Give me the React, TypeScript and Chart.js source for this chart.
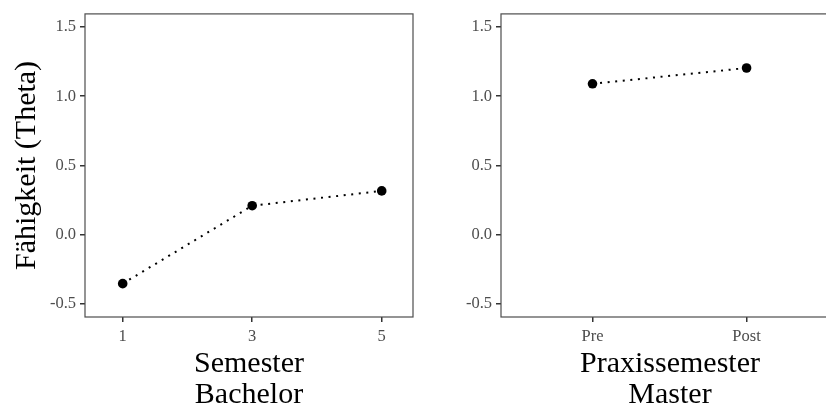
import React, { useEffect, useRef } from "react";
import { Chart, registerables } from "chart.js";

Chart.register(...registerables);

// ---- data ----
const bachelorSemesters = [1, 3, 5];
const bachelorTheta = [-0.354, 0.209, 0.316];
const masterPhases = ["Pre", "Post"];
const masterTheta = [1.09, 1.204];
const yTicks = [-0.5, 0, 0.5, 1.0, 1.5];
const yTickLabels = ["-0.5", "0.0", "0.5", "1.0", "1.5"];
const yAxisTitle = "Fähigkeit (Theta)";
const bachelorTitle = ["Semester", "Bachelor"];
const masterTitle = ["Praxissemester", "Master"];

const FAMILY = "'Liberation Serif', 'Times New Roman', serif";
const TICK_FONT = { family: FAMILY, size: 16.5 };
const TITLE_FONT = { family: FAMILY, size: 30, lineHeight: 31 / 30 };

const panelBorder = {
  id: "panelBorder",
  beforeDatasetsDraw(chart: any) {
    const { ctx, chartArea } = chart;
    ctx.save();
    ctx.strokeStyle = "#4d4d4d";
    ctx.lineWidth = 1.2;
    ctx.strokeRect(chartArea.left, chartArea.top, chartArea.right - chartArea.left, chartArea.bottom - chartArea.top);
    ctx.restore();
  },
};

function buildConfig(opts: {
  xs: number[];
  ys: number[];
  xLabels: (v: number) => string;
  xMin: number;
  xMax: number;
  xTitle: string[];
  yTitle: string | null;
  yWidth: number;
  padRight: number;
}) {
  return {
    type: "line",
    data: {
      datasets: [
        {
          data: opts.xs.map((x, i) => ({ x, y: opts.ys[i] })),
          borderColor: "#000",
          borderWidth: 2,
          borderDash: [2, 5.6],
          borderCapStyle: "butt",
          pointRadius: 4.8,
          pointBackgroundColor: "#000",
          pointBorderWidth: 0,
          tension: 0,
          fill: false,
        },
      ],
    },
    options: {
      animation: false,
      responsive: false,
      devicePixelRatio: 1,
      layout: { padding: { top: 10, right: opts.padRight, bottom: 0, left: 0 } },
      plugins: { legend: { display: false }, tooltip: { enabled: false } },
      scales: {
        x: {
          type: "linear",
          min: opts.xMin,
          max: opts.xMax,
          afterBuildTicks: (s: any) => {
            s.ticks = opts.xs.map((v) => ({ value: v }));
          },
          afterFit: (s: any) => {
            s.height = 90;
          },
          ticks: {
            callback: (v: number) => opts.xLabels(v),
            font: TICK_FONT,
            color: "#4d4d4d",
            padding: 5,
            autoSkip: false,
            maxRotation: 0,
          },
          grid: { drawOnChartArea: false, tickLength: 5, color: "#333", lineWidth: 1.5 },
          border: { display: false },
          title: {
            display: true,
            text: opts.xTitle,
            font: TITLE_FONT,
            color: "#000",
            padding: { top: 0, bottom: -4 },
          },
        },
        y: {
          type: "linear",
          min: -0.595,
          max: 1.595,
          afterBuildTicks: (s: any) => {
            s.ticks = yTicks.map((v) => ({ value: v }));
          },
          afterFit: (s: any) => {
            s.width = opts.yWidth;
          },
          ticks: {
            callback: (v: number) => {
              const i = yTicks.findIndex((t) => Math.abs(t - v) < 1e-9);
              return i >= 0 ? yTickLabels[i] : "";
            },
            font: TICK_FONT,
            color: "#4d4d4d",
            padding: 4,
          },
          grid: { drawOnChartArea: false, tickLength: 5, color: "#333", lineWidth: 1.5 },
          border: { display: false },
          title: {
            display: !!opts.yTitle,
            text: opts.yTitle || "",
            font: TITLE_FONT,
            color: "#000",
            padding: { top: 12, bottom: 0 },
          },
        },
      },
    },
    plugins: [panelBorder],
  } as any;
}

function Panel(props: { left: number; width: number; config: any }) {
  const ref = useRef<HTMLCanvasElement | null>(null);
  useEffect(() => {
    if (!ref.current) return;
    const chart = new Chart(ref.current, props.config);
    return () => chart.destroy();
  }, []);
  return (
    <canvas
      ref={ref}
      width={props.width}
      height={407}
      style={{ position: "absolute", left: props.left, top: 0, width: props.width, height: 407, display: "block" }}
    />
  );
}

export default function App() {
  const leftConfig = buildConfig({
    xs: bachelorSemesters,
    ys: bachelorTheta,
    xLabels: (v) => String(v),
    xMin: 0.418,
    xMax: 5.483,
    xTitle: bachelorTitle,
    yTitle: yAxisTitle,
    yWidth: 85,
    padRight: 420 - 413,
  });
  const rightConfig = buildConfig({
    xs: masterPhases.map((_, i) => i + 1),
    ys: masterTheta,
    xLabels: (v) => masterPhases[Math.round(v) - 1] ?? "",
    xMin: 0.406,
    xMax: 2.6,
    xTitle: masterTitle,
    yTitle: null,
    yWidth: 81,
    padRight: 11,
  });
  return (
    <div
      style={{
        position: "fixed",
        left: 0,
        top: 0,
        width: 826,
        height: 407,
        overflow: "hidden",
        background: "#fff",
      }}
    >
      <Panel left={0} width={420} config={leftConfig} />
      <Panel left={420} width={430} config={rightConfig} />
    </div>
  );
}
